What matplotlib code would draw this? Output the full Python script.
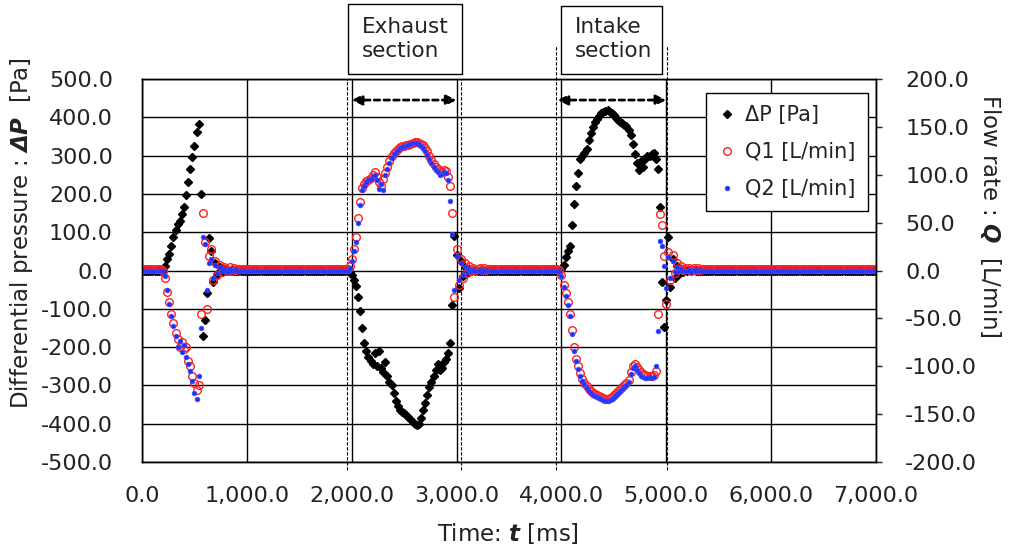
import matplotlib

matplotlib.use("Agg")
import matplotlib.pyplot as plt
import numpy as np
from matplotlib.patches import Rectangle
from matplotlib.ticker import FuncFormatter, MultipleLocator

# sampling grid of the logger (ms)
STEP_MS = 20
t_ms = np.arange(0, 7001, STEP_MS)

dp_rest = 0.0
q1_rest = 1.5
q2_rest = -0.5

# first transient (valve opening), starting at 200 ms
ev1_start = 200
dp_ev1 = [0, 13, 29, 43, 65, 87, 107, 122, 130, 148, 165, 196, 230, 264, 296, 326, 361, 383,
          200, -170, -130, -60, 85, 50, -30, 20, -10, 8, -5, 3, 0, 2, -1, 1, 0, 0]
q1_ev1 = [0, -8, -22, -33, -45, -55, -65, -72, -80, -75, -82, -80, -95, -100, -110, -118, -125, -120,
          -45, 60, 30, -40, 15, 22, -10, 10, -5, 6, -2, 4, 2, -1, 4, 0, 3, 1]
q2_ev1 = [0, -6, -20, -35, -48, -58, -68, -80, -74, -85, -78, -90, -98, -105, -115, -128, -134, -110,
          -60, 35, 28, -20, 8, 12, -8, 6, -3, 4, 0, 2, 0, -2, 2, -1, 1, 0]

# exhaust section, starting at 1960 ms
ev2_start = 1960
dp_ev2 = [0, -5, -12, -25, -40, -70, -105, -150, -190, -210, -225, -235, -245, -215, -250,
          -210, -255, -265, -240, -275, -290, -300, -320, -340, -355, -365, -370, -372, -378, -382,
          -388, -395, -400, -403, -400, -385, -365, -345, -325, -305, -290, -275, -260, -245, -260,
          -255, -240, -230, -215, -190, -90, 90, 40, -45, 25, -15, 10, -6, 4, -2, 1, 0, 0,
          0, 0, 0, 0, 0]
q1_ev2 = [2, 5, 12, 22, 35, 55, 72, 86, 90, 93, 95, 97, 100, 103, 98,
          92, 88, 96, 102, 108, 114, 120, 123, 125, 127, 129, 130, 130, 131, 131,
          132, 133, 134, 134, 133, 132, 131, 128, 125, 120, 115, 111, 108, 106, 104,
          103, 105, 104, 98, 88, 60, -28, 22, -15, 12, -8, 8, -3, 5, 0, 3, 1, 2,
          3, 0.5, 2.5, 1, 2]
q2_ev2 = [0, 3, 10, 20, 30, 50, 68, 84, 88, 92, 94, 96, 99, 100, 94,
          85, 90, 84, 100, 106, 112, 118, 122, 124, 126, 128, 129, 130, 130, 131,
          132, 133, 133, 133, 132, 130, 128, 125, 121, 116, 112, 108, 105, 103, 100,
          101, 103, 102, 94, 73, 38, -20, 15, -10, 8, -5, 4, -2, 2, -1, 1, 0, 0,
          0.5, -1.5, 0.5, -1, 0]

# intake section, starting at 3940 ms
ev3_start = 3940
dp_ev3 = [0, 0, 0, 3, 15, 35, 50, 65, 120, 174, 220, 255, 290, 300, 308,
          318, 340, 360, 375, 388, 396, 403, 410, 414, 417, 418, 415, 410, 405, 398,
          393, 388, 384, 380, 376, 368, 355, 330, 305, 280, 262, 285, 270, 290, 300,
          298, 305, 306, 290, 265, 165, -30, -148, -78, 87, -43, 30, -20, 12, -8,
          5, -3, 2, 0, 1, -1, 1, 0, 0, 0, 0, 0]
q1_ev3 = [1.5, 1.5, 1, -5, -15, -24, -33, -45, -62, -80, -92, -100, -107, -113, -117,
          -121, -124, -126, -128, -129, -130, -131, -132, -133, -134, -134, -133, -132, -130, -128,
          -126, -124, -122, -120, -118, -114, -106, -100, -98, -101, -104, -106, -108, -109, -110,
          -110, -110, -109, -105, -45, 59, 48, 15, -35, 19, -10, 16, -3, 8, 2,
          5, 1, 3, 1.5, 3, 0, 3, 0.5, 2.5, 1, 2, 1.5]
q2_ev3 = [0, 0, -0.5, -6, -17, -27, -36, -48, -66, -84, -95, -103, -110, -115, -119,
          -123, -126, -128, -130, -131, -132, -133, -134, -135, -136, -136, -135, -134, -132, -130,
          -128, -126, -124, -122, -120, -116, -108, -102, -100, -104, -107, -110, -111, -112, -112,
          -111, -112, -111, -100, -63, 31, 26, 5, -18, 14, -8, 10, -2, 4, 0,
          2, -1, 0, 0, 1, -2, 1, -1, 0.5, -1, 0, -0.5]

# section boundaries (dashed guides) and arrow spans, ms
exhaust_bounds = [1958, 3046]
intake_bounds = [3951, 5004]
exhaust_span = [2000, 3000]
intake_span = [3963, 5000]


def build(rest, segments):
    y = np.full(t_ms.shape, rest, dtype=float)
    for start, vals in segments:
        i0 = start // STEP_MS
        y[i0:i0 + len(vals)] = vals
    return y


dp = build(dp_rest, [(ev1_start, dp_ev1), (ev2_start, dp_ev2), (ev3_start, dp_ev3)])
q1 = build(q1_rest, [(ev1_start, q1_ev1), (ev2_start, q1_ev2), (ev3_start, q1_ev3)])
q2 = build(q2_rest, [(ev1_start, q2_ev1), (ev2_start, q2_ev2), (ev3_start, q2_ev3)])

W, H = 1011, 548
plt.rcParams["font.family"] = "DejaVu Sans"
plt.rcParams["mathtext.fontset"] = "dejavusans"

fig = plt.figure(figsize=(W / 100, H / 100), dpi=100)
fig.patch.set_facecolor("white")


def fx(px):
    return px / W


def fy(py):
    return 1 - py / H


ax = fig.add_axes([fx(142), fy(462), (876 - 142) / W, (462 - 79) / H])
ax2 = ax.twinx()

h_dp, = ax.plot(t_ms, dp, linestyle="none", marker="D", ms=4.2, color="black", label=r"ΔP [Pa]")
h_q1, = ax2.plot(t_ms, q1, linestyle="none", marker="o", ms=5.5, mfc="none", mec="#ff2020", mew=1.0,
                 label="Q1 [L/min]")
h_q2, = ax2.plot(t_ms, q2, linestyle="none", marker="o", ms=3.4, color="#1f2fff", mec="#3f4fff", mew=0.5,
                 label="Q2 [L/min]")

ax.set_xlim(0, 7000)
ax.set_ylim(-500, 500)
ax2.set_ylim(-200, 200)
ax.xaxis.set_major_locator(MultipleLocator(1000))
ax.yaxis.set_major_locator(MultipleLocator(100))
ax2.yaxis.set_major_locator(MultipleLocator(50))
ax.xaxis.set_major_formatter(FuncFormatter(lambda v, p: f"{v:,.1f}"))
ax.yaxis.set_major_formatter(FuncFormatter(lambda v, p: f"{v:.1f}"))
ax2.yaxis.set_major_formatter(FuncFormatter(lambda v, p: f"{v:.1f}"))

ax.grid(True, color="black", lw=1.0)
ax.set_axisbelow(True)
ax.tick_params(axis="x", length=0, pad=17, labelsize=16, colors="#222222")
ax.tick_params(axis="y", length=0, pad=21, labelsize=16, colors="#222222")
ax2.tick_params(axis="y", length=4, width=1, pad=17, labelsize=16, colors="#222222")
for a in (ax, ax2):
    for s in a.spines.values():
        s.set_color("black")
        s.set_linewidth(1.0)

fig.text(fx(22), fy(233), r"Differential pressure : $\mathbfit{\Delta P}$  [Pa]", rotation=90,
         ha="center", va="center", fontsize=16.5, color="#222222")
fig.text(fx(990), fy(216), r"Flow rate : $\mathbfit{Q}$  [L/min]", rotation=-90,
         ha="center", va="center", fontsize=16.5, color="#222222")
fig.text(fx(508), fy(533), r"Time: $\mathbfit{t}$ [ms]", ha="center", va="center",
         fontsize=16.5, color="#222222")

# dashed guides marking the sections
xt = ax.get_xaxis_transform()
for x in exhaust_bounds:
    ax.plot([x, x], [-0.021, 1.0], transform=xt, color="black", lw=0.8,
            linestyle=(0, (3, 1.5)), clip_on=False, zorder=5)
for x in intake_bounds:
    ax.plot([x, x], [-0.021, 1.089], transform=xt, color="black", lw=0.8,
            linestyle=(0, (3, 1.5)), clip_on=False, zorder=5)

for span in (exhaust_span, intake_span):
    ax.annotate("", xy=(span[1], 445), xytext=(span[0], 445),
                arrowprops=dict(arrowstyle="<|-|>", color="black", lw=2, linestyle=(0, (2, 1.5)),
                                mutation_scale=15, shrinkA=0, shrinkB=0), zorder=6)

# section boxes above the plot
for x0, x1, top, txt, tx in [(348, 462, 4, "Exhaust\nsection", 362), (561, 662, 6, "Intake\nsection", 575)]:
    fig.add_artist(Rectangle((fx(x0), fy(74)), (x1 - x0) / W, (74 - top) / H,
                             transform=fig.transFigure, fill=False, edgecolor="black", lw=1.0))
    fig.text(fx(tx), fy(39), txt, ha="left", va="center", fontsize=15.5, color="#222222",
             linespacing=1.25)

leg = ax2.legend(handles=[h_dp, h_q1, h_q2], loc="upper right",
                 bbox_to_anchor=(fx(868), fy(93)), bbox_transform=fig.transFigure,
                 borderaxespad=0, fontsize=15, numpoints=1, handlelength=0.9, handletextpad=0.4,
                 labelspacing=0.8, borderpad=0.6, fancybox=False, framealpha=1, edgecolor="black")
leg.get_frame().set_linewidth(1.0)
for txt in leg.get_texts():
    txt.set_color("#222222")

fig.savefig("out.png", dpi=100, facecolor="white")
